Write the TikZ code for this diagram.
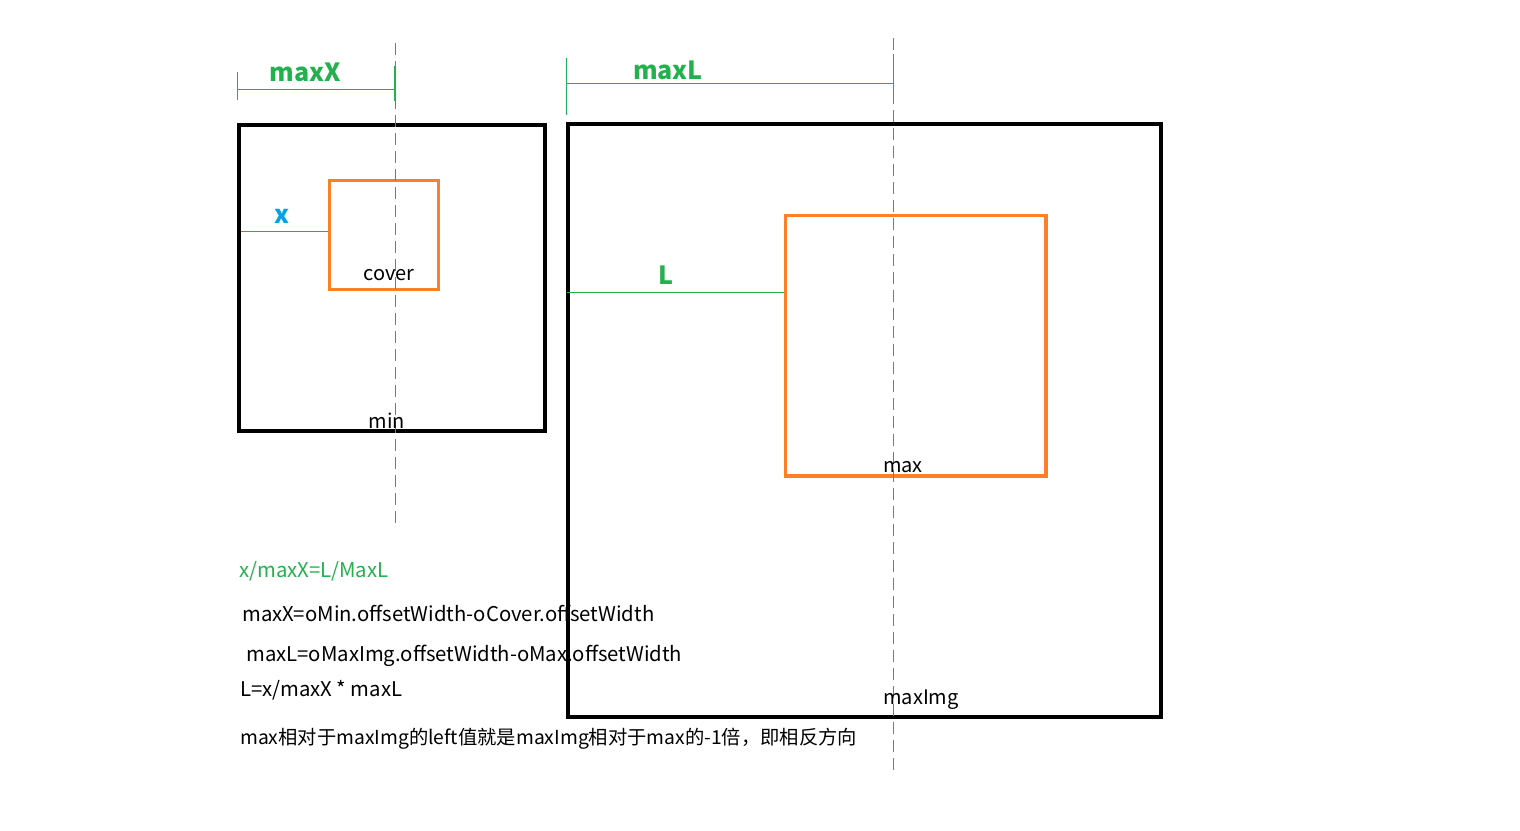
\documentclass[tikz,border=0pt]{standalone}
\usepackage{fontspec}
\setmainfont{Noto Sans CJK SC}
\definecolor{pgreen}{HTML}{22B14C}
\definecolor{porange}{HTML}{FF7F27}
\definecolor{pblue}{HTML}{00A2E8}
\definecolor{dashblue}{HTML}{2A8FCF}
\tikzset{
  blackbox/.style={draw=black, line width=4pt},
  orangebox/.style={draw=porange, line width=3.5pt},
  guide/.style={draw=dashblue, line width=0.8pt, dash pattern=on 12pt off 6pt},
  measure/.style={draw=pgreen, line width=1pt},
  biglabel/.style={font=\fontsize{25}{30}\selectfont\bfseries, inner sep=0pt},
  boxlabel/.style={font=\fontsize{20}{24}\selectfont, inner sep=0pt},
  formula/.style={font=\fontsize{20.3}{24}\selectfont, inner sep=0pt, anchor=west},
}
\begin{document}
\begin{tikzpicture}[x=1pt,y=-1pt]
\useasboundingbox (0,0) rectangle (1520,830);
% boxes
\draw[blackbox] (239,125) rectangle (545,431);
\draw[blackbox] (568,124) rectangle (1161,717);
\draw[orangebox] (329.5,180.5) rectangle (438.5,289.5);
\draw[orangebox] (785.5,215.5) rectangle (1046,476);
% guides
\coordinate (g1t) at (395,43); \coordinate (g1b) at (395,523);
\coordinate (g2t) at (893,38); \coordinate (g2b) at (893,775);
\draw[guide] (g1t) -- (g1b);
\draw[guide] (g2t) -- (g2b);
% maxX measure
\coordinate (mxl1) at (237,72); \coordinate (mxl2) at (237,100);
\coordinate (mxr1) at (395,66); \coordinate (mxr2) at (395,101);
\coordinate (mxa) at (237,89); \coordinate (mxb) at (395,89);
\draw[measure] (mxl1) -- (mxl2);
\draw[measure, line width=1.5pt] (mxr1) -- (mxr2);
\draw[measure] (mxa) -- (mxb);
\node[biglabel, text=pgreen] (maxX) at (305,72) {maxX};
% maxL measure
\coordinate (mll1) at (566,58); \coordinate (mll2) at (566,115);
\coordinate (mlr1) at (893,54); \coordinate (mlr2) at (893,94);
\coordinate (mla) at (567,83); \coordinate (mlb) at (893,83);
\draw[measure] (mll1) -- (mll2);
\draw[measure] (mlr1) -- (mlr2);
\draw[measure] (mla) -- (mlb);
\node[biglabel, text=pgreen] (maxL) at (668,70) {maxL};
% x and L
\coordinate (xa) at (241,231); \coordinate (xb) at (328,231);
\draw[measure] (xa) -- (xb);
\node[biglabel, text=pblue] (xlab) at (282,216) {x};
\coordinate (La) at (567,292); \coordinate (Lb) at (784,292);
\draw[measure] (La) -- (Lb);
\node[biglabel, text=pgreen] (Llab) at (666,275) {L};
% box labels
\node[boxlabel] (cover) at (389,275) {cover};
\node[boxlabel] (min) at (387,421) {min};
\node[boxlabel] (max) at (903,467) {max};
\node[boxlabel] (maxImg) at (921,700) {maxImg};
% formulas
\node[formula, text=pgreen] (f1) at (239,571) {x/maxX=L/MaxL};
\node[formula] (f2) at (242,613) {maxX=oMin.offsetWidth-oCover.offsetWidth};
\node[formula] (f3) at (246,656) {maxL=oMaxImg.offsetWidth-oMax.offsetWidth};
\node[formula] (f4) at (240,690) {L=x/maxX * maxL};
\node[formula, font=\fontsize{19.3}{24}\selectfont] (f5) at (240,739) {max相对于maxImg的left值就是maxImg相对于max的-1倍，即相反方向};
\end{tikzpicture}
\end{document}
